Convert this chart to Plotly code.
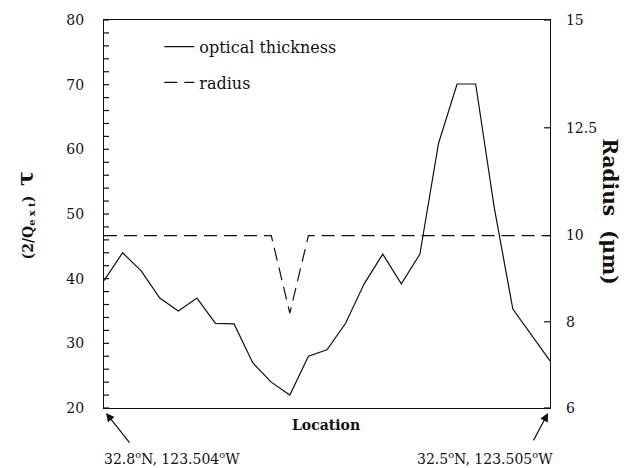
import plotly.graph_objects as go

# ---- data ----
location = list(range(25))
optical_thickness = [39.7, 44.0, 41.2, 37.0, 35.0, 37.0, 33.1, 33.0, 27.0, 24.0,
                     22.0, 28.0, 29.0, 33.1, 39.2, 43.8, 39.2, 43.8, 60.9, 70.1,
                     70.1, 51.0, 35.3, 31.3, 27.3]
radius = [10.0] * 10 + [8.2] + [10.0] * 14

left_labels = [20, 30, 40, 50, 60, 70, 80]
left_tickvals = list(range(20, 81, 2))   # a tick every 2 units
right_ticks = [6, 8, 10, 12.5, 15]
right_labels = ["6", "8", "10", "12.5", "15"]

FONT = "DejaVu Serif"
INK = "#111111"

fig = go.Figure()
fig.add_trace(go.Scatter(
    x=location, y=optical_thickness, mode="lines", name="optical thickness",
    line=dict(color=INK, width=1.2), legendgroup="a", yaxis="y"))
fig.add_trace(go.Scatter(
    x=location, y=radius, mode="lines", name="radius",
    line=dict(color=INK, width=1.2, dash="13px,7px"), legendgroup="b", yaxis="y2"))

L, R, T, B = 104, 550, 15, 408
PW = R - L

fig.update_layout(
    width=627, height=468,
    margin=dict(l=104, r=77, t=15, b=60),
    paper_bgcolor="white", plot_bgcolor="white",
    font=dict(family=FONT, size=14, color=INK),
    showlegend=True,
    legend=dict(x=0.124, y=0.975, xanchor="left", yanchor="top",
                bgcolor="rgba(0,0,0,0)", borderwidth=0,
                font=dict(family=FONT, size=16, color=INK),
                tracegroupgap=12),
    xaxis=dict(range=[0, 24], showline=True, linecolor=INK,
               linewidth=1.2, mirror=True, showgrid=False, zeroline=False,
               showticklabels=False, ticks=""),
    yaxis=dict(range=[20, 80], tickmode="array", tickvals=left_labels,
               showline=True, linecolor=INK, linewidth=1.2,
               showgrid=False, zeroline=False, ticks="",
               ticklabelstandoff=16,
               tickfont=dict(family=FONT, size=14, color=INK)),
    yaxis2=dict(range=[6, 15], tickmode="array", tickvals=right_ticks,
                ticktext=right_labels,
                overlaying="y", side="right", showline=True, linecolor=INK,
                linewidth=1.2, showgrid=False, zeroline=False, ticks="",
                ticklabelstandoff=12,
                tickfont=dict(family=FONT, size=14, color=INK)),
)

# inward-pointing tick marks, placed through the axes' own scales
shapes = []
for v in left_tickvals:
    shapes.append(dict(type="line", xref="paper", yref="y", x0=0, x1=5 / PW,
                       y0=v, y1=v, line=dict(color=INK, width=1.2), layer="above"))
for v in right_ticks:
    shapes.append(dict(type="line", xref="paper", yref="y2", x0=1 - 6 / PW, x1=1,
                       y0=v, y1=v, line=dict(color=INK, width=1.2), layer="above"))
fig.update_layout(shapes=shapes)

def px(xp):
    return (xp - L) / PW
def py(yp):
    return (B - yp) / (B - T)

def label(text, xp, yp, size=14, angle=0):
    return dict(text=text, x=px(xp), y=py(yp), xref="paper", yref="paper",
                xanchor="center", yanchor="middle", showarrow=False,
                textangle=angle, font=dict(family=FONT, size=size, color=INK))

annotations = [
    label("<b>(2/Q<sub>e x t</sub>)  </b><b><span style='font-size:22px'>τ</span></b>",
          25, 213, angle=-90),
    label("<b>Radius  (μm)</b>", 610, 209, size=20, angle=90),
    label("<b>Location</b>", 326, 425),
    label("32.8<sup>o</sup>N, 123.504<sup>o</sup>W", 172, 459),
    label("32.5<sup>o</sup>N, 123.505<sup>o</sup>W", 485, 459),
    # arrows pointing at the ends of the transect
    dict(text=" ", x=0, y=20, xref="x", yref="y",
         ax=27, ay=34, axref="pixel", ayref="pixel",
         showarrow=True, arrowhead=2, arrowsize=1.4, arrowwidth=1.2,
         arrowcolor=INK, yshift=-5, xshift=2),
    dict(text=" ", x=24, y=20, xref="x", yref="y",
         ax=-18, ay=34, axref="pixel", ayref="pixel",
         showarrow=True, arrowhead=2, arrowsize=1.4, arrowwidth=1.2,
         arrowcolor=INK, yshift=-5, xshift=-2),
]

fig.update_layout(annotations=annotations)
fig.write_html("out.html")
